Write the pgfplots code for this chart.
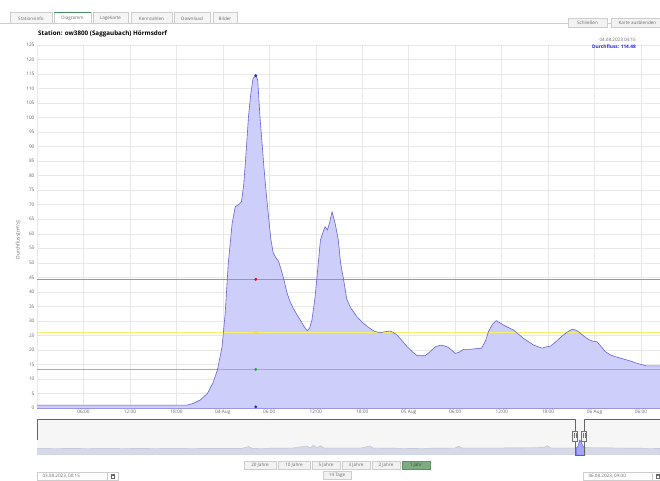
\documentclass[border=0pt]{standalone}
\usepackage{pgfplots}
\usepackage{pgfplotstable}
\pgfplotsset{compat=1.18}
\usepackage{fontspec}
\setmainfont{Open Sans}
\definecolor{gridc}{RGB}{232,232,232}
\definecolor{labc}{RGB}{105,105,105}
\definecolor{fillc}{RGB}{206,206,250}
\definecolor{linec}{RGB}{100,100,215}
\definecolor{tabbg}{RGB}{245,245,245}
\definecolor{tabbd}{RGB}{205,205,205}
\definecolor{actgreen}{RGB}{70,140,95}
\definecolor{btnbg}{RGB}{242,242,242}
\definecolor{btngreen}{RGB}{125,172,128}
\definecolor{navbg}{RGB}{246,246,247}
\definecolor{navser}{RGB}{214,217,230}
\definecolor{navline}{RGB}{185,190,210}
\definecolor{blued}{RGB}{35,35,225}
\definecolor{xaxc}{RGB}{150,150,225}

\pgfplotstableread{
h v
0 1.0
19.4 1.0
20.2 1.6
21.1 2.8
22.0 5.0
22.7 8.5
23.3 13.1
23.9 21.1
24.3 32.6
24.7 49.8
25.2 63.6
25.6 69.3
26.1 70.2
26.4 71.0
26.7 77.0
27.0 88.0
27.3 100.0
27.6 108.0
27.9 113.5
28.25 114.48
28.5 113.0
28.8 100.0
29.1 90.0
29.3 83.0
29.6 74.0
29.9 65.9
30.2 58.0
30.5 53.5
30.9 51.5
31.2 50.5
31.6 47.0
31.9 44.0
32.3 39.5
32.7 36.5
33.1 34.3
33.6 32.0
34.0 30.3
34.5 28.0
34.9 26.6
35.2 27.5
35.5 30.3
35.9 38.0
36.2 46.4
36.6 57.8
37.0 61.0
37.2 62.4
37.5 61.3
37.8 64.0
38.1 67.6
38.5 63.6
38.9 58.0
39.2 50.0
39.6 44.1
40.0 37.5
40.5 34.5
41.3 31.5
42.0 29.5
42.8 27.8
43.5 26.5
44.3 25.9
45.0 26.3
45.6 26.5
46.0 26.0
46.5 25.1
47.2 23.0
47.8 21.1
48.5 19.3
49.1 18.0
50.1 18.0
50.6 19.0
51.0 20.0
51.5 21.2
52.1 21.6
52.6 21.4
53.1 20.9
53.6 19.8
54.0 18.8
54.5 19.2
55.1 20.2
55.9 20.2
56.6 20.4
57.4 20.6
57.9 23.0
58.3 26.3
58.8 28.8
59.3 30.1
59.8 29.3
60.2 28.6
61.5 26.9
62.2 25.4
62.8 24.0
63.5 22.8
64.1 21.7
65.2 20.6
65.7 21.0
66.3 21.3
67.0 22.8
67.8 24.8
68.5 26.2
69.1 27.1
69.5 26.9
69.9 26.3
70.5 25.0
71.2 23.6
71.8 23.0
72.3 22.8
72.8 21.3
73.4 19.4
74.1 18.2
74.9 17.5
75.7 16.9
76.6 16.2
77.6 15.3
78.7 14.5
80.5 14.5
}\flow

\pgfplotstableread{
d v
0 1.8
20 1.9
40 1.8
60 1.9
80 1.8
100 1.9
120 1.9
124 2.4
126 1.9
150 2.0
158 2.6
160 2.0
162 2.8
164 2.0
166 2.7
168 2.0
190 2.0
195 2.6
197 2.0
220 1.9
245 2.0
247 2.5
249 2.0
270 2.0
297 2.1
299 2.7
301 2.0
316 2.0
317 2.5
318 4.3
319 3.5
320 2.4
321 2.1
340 2.0
365 1.9
}\nav

\pgfplotstableread{
d v
316 2.0
317 2.5
318 4.3
319 3.5
320 2.4
321 2.1
}\navsel

\begin{document}
\begin{tikzpicture}
\path[use as bounding box] (0,0) rectangle (660bp,481bp);
\fill[white] (0,0) rectangle (660bp,481bp);

% ---------- decorations (pixel coordinates, y downward) ----------
\begin{scope}[x=1bp,y=-1bp,shift={(0,-481)}]
  \tikzset{tabt/.style={font=\fontsize{4.6}{5}\selectfont, text=labc}}
  \draw[tabbd, line width=0.5bp] (0,23.5) -- (660,23.5);
  \foreach \a/\b/\t in {10/52/Stationsinfo,93/128/Lagekarte,131/172/Kennzahlen,174/210/Download,213/237/Bilder}{
    \filldraw[fill=tabbg, draw=tabbd, line width=0.4bp] (\a,23.5) rectangle (\b,12.5);
    \node[tabt] at ({(\a+\b)/2},18.3) {\t};
  }
  \filldraw[fill=white, draw=tabbd, line width=0.4bp] (54,23.5) rectangle (91,12.5);
  \draw[actgreen, line width=1.3bp] (54,12.6) -- (91,12.6);
  \node[tabt] at (72.5,18.3) {Diagramm};
  \node[anchor=west, font=\fontsize{6.3}{7}\selectfont\bfseries, inner sep=0] at (38,34) {Station: ow3800 (Saggaubach) Hörmsdorf};
  \filldraw[fill=btnbg, draw=tabbd, line width=0.4bp] (568,18) rectangle (607,27);
  \node[tabt] at (587.5,22.5) {Schließen};
  \filldraw[fill=btnbg, draw=tabbd, line width=0.4bp] (611,18) rectangle (663,27);
  \node[tabt, anchor=west] at (615,22.5) {Karte ausblenden};
  \node[rotate=90, font=\fontsize{5}{6}\selectfont, text=labc] at (18,240) {Durchfluss[m³/s]};
\end{scope}

% ---------- main chart ----------
\begin{axis}[
  at={(37bp,73bp)}, anchor=south west,
  width=623bp, height=363bp, scale only axis,
  xmin=0, xmax=80.45, ymin=0, ymax=125,
  xtick={6,12,...,78},
  xticklabels={06:00,12:00,18:00,04 Aug,06:00,12:00,18:00,05 Aug,06:00,12:00,18:00,06 Aug,06:00},
  ytick={0,5,...,125},
  grid=major,
  major grid style={draw=gridc, line width=0.5bp},
  axis x line*=bottom, axis y line*=left,
  x axis line style={draw=xaxc, line width=1.2bp, -},
  y axis line style={draw=gridc, line width=0.5bp, -},
  tick style={draw=none},
  ticklabel style={font=\fontsize{4.8}{5}\selectfont, text=labc},
  /pgf/number format/assume math mode=true,
  xticklabel style={yshift=1bp},
  yticklabel style={xshift=1bp},
  clip=true,
]
\addplot[fill=fillc, draw=none] table[x=h,y=v] {\flow} \closedcycle;
\addplot[fill={rgb,255:red,255;green,110;blue,110}, draw=none] coordinates {(0,44.02) (80.45,44.02) (80.45,44.58) (0,44.58)} -- cycle;
\addplot[fill={rgb,255:red,245;green,240;blue,100}, draw=none] coordinates {(0,25.75) (80.45,25.75) (80.45,26.25) (0,26.25)} -- cycle;
\addplot[fill={rgb,255:red,110;green,212;blue,110}, draw=none] coordinates {(0,13.02) (80.45,13.02) (80.45,13.58) (0,13.58)} -- cycle;
\addplot[draw=linec, line width=0.6bp, mark=none] table[x=h,y=v] {\flow};
\addplot[only marks, mark=*, mark size=1.2bp, mark options={draw=blued, fill=blued}] coordinates {(28.25,114.48) (28.25,0.4)};
\addplot[only marks, mark=*, mark size=1.3bp, mark options={draw=red, fill=red}] coordinates {(28.25,44.3)};
\addplot[only marks, mark=*, mark size=1.3bp, mark options={draw=yellow!90!orange, fill=yellow!90!orange}] coordinates {(28.25,26.0)};
\addplot[only marks, mark=*, mark size=1.3bp, mark options={draw=green!75!black, fill=green!75!black}] coordinates {(28.25,13.3)};
\end{axis}

% ---------- navigator ----------
\fill[navbg] (37bp,26bp) rectangle (660bp,61.5bp);
\begin{axis}[
  at={(37bp,26bp)}, anchor=south west,
  width=623bp, height=35bp, scale only axis,
  xmin=0, xmax=365, ymin=0, ymax=10,
  hide axis, clip=true,
]
\addplot[fill=navser, draw=navline, line width=0.4bp] table[x=d,y=v] {\nav} \closedcycle;
\addplot[fill=fillc!80!blue, draw=linec, line width=0.4bp] table[x=d,y=v] {\navsel} \closedcycle;
\end{axis}

\begin{scope}[x=1bp,y=-1bp,shift={(0,-481)}]
  \tikzset{tabt/.style={font=\fontsize{4.6}{5}\selectfont, text=labc}}
  \draw[black!60, line width=0.7bp] (37,440) -- (37,419.5) -- (575,419.5) -- (575,455) -- (584,455) -- (584,419.5) -- (660,419.5);
  \filldraw[fill=btnbg, draw=black!55, line width=0.4bp] (572.5,431) rectangle (577.5,441);
  \filldraw[fill=btnbg, draw=black!55, line width=0.4bp] (581.5,431) rectangle (586.5,441);
  \draw[black!55, line width=0.3bp] (574.3,433.5) -- (574.3,438.5) (575.7,433.5) -- (575.7,438.5);
  \draw[black!55, line width=0.3bp] (583.3,433.5) -- (583.3,438.5) (584.7,433.5) -- (584.7,438.5);
  \foreach \a/\b/\t in {244/276/20 Jahre,278/310/10 Jahre,312/340/5 Jahre,342/370/3 Jahre,372/400/2 Jahre}{
    \filldraw[fill=btnbg, draw=tabbd, line width=0.4bp] (\a,461) rectangle (\b,469);
    \node[tabt] at ({(\a+\b)/2},465) {\t};
  }
  \filldraw[fill=btngreen, draw=btngreen!80!black, line width=0.4bp] (402,461) rectangle (430,469);
  \node[tabt, text=black!75] at (416,465) {1 Jahr};
  \filldraw[fill=btnbg, draw=tabbd, line width=0.4bp] (323,471.5) rectangle (351,479.5);
  \node[tabt] at (337,475.5) {14 Tage};
  \draw[tabbd, line width=0.4bp] (37,472) rectangle (107,480.5);
  \node[tabt, anchor=west] at (39,476.3) {03.08.2023, 00:15};
  \draw[tabbd, line width=0.4bp] (107,472) rectangle (118,480.5);
  \draw[labc, line width=0.3bp] (110.8,474.3) rectangle (114.2,478.3) (110.8,475.5) -- (114.2,475.5);
  \draw[tabbd, line width=0.4bp] (583,472) rectangle (652,480.5);
  \node[tabt, anchor=west] at (585,476.3) {06.08.2023, 09:00};
  \draw[tabbd, line width=0.4bp] (652,472) rectangle (663,480.5);
  \draw[labc, line width=0.3bp] (655.8,474.3) rectangle (659.2,478.3) (655.8,475.5) -- (659.2,475.5);
  \node[anchor=east, font=\fontsize{4.6}{5}\selectfont, text=labc, inner sep=0] at (636,40) {04.08.2023 04:15};
  \node[anchor=east, font=\fontsize{4.8}{5}\selectfont\bfseries, text=blued, inner sep=0] at (636,47) {Durchfluss: 114.48};
\end{scope}
\end{tikzpicture}
\end{document}
